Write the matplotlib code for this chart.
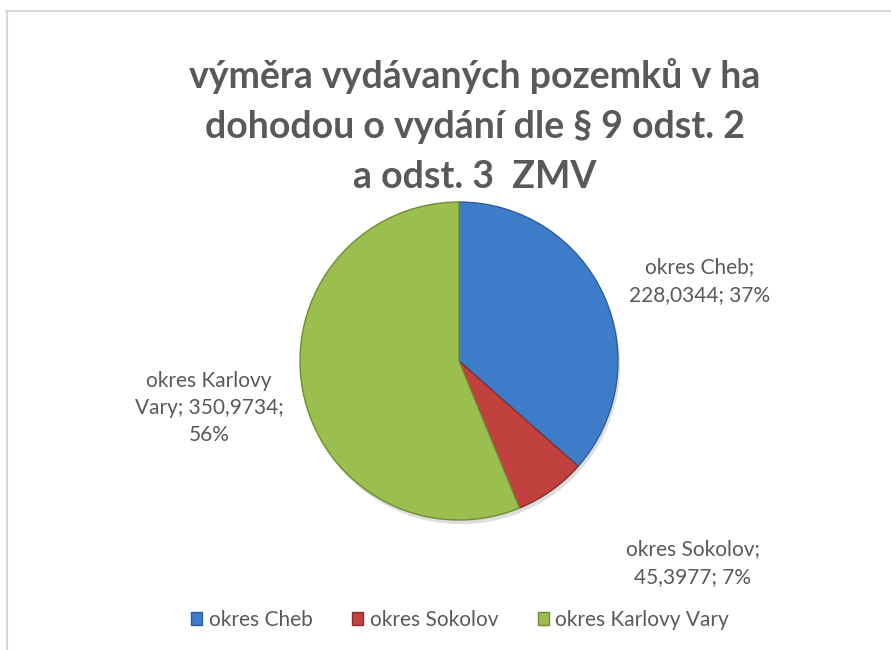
import matplotlib
matplotlib.use("Agg")
import matplotlib.pyplot as plt
import matplotlib.patheffects as pe
from matplotlib.patches import Patch
from matplotlib.lines import Line2D

# data
okresy = ["okres Cheb", "okres Sokolov", "okres Karlovy Vary"]
vymera = [228.0344, 45.3977, 350.9734]
procenta_txt = ["37%", "7%", "56%"]
barvy = ["#3d7cc9", "#c0413e", "#9bbf4f"]
okraje = ["#2e5f9c", "#8c2d2b", "#6f8c35"]

title = "výměra vydávaných pozemků v ha\ndohodou o vydání dle § 9 odst. 2\na odst. 3  ZMV"
grey = "#595959"

plt.rcParams['font.family'] = ['Lato', 'DejaVu Sans']

W, H = 891, 650
fig = plt.figure(figsize=(W / 100, H / 100), dpi=100)

# chart frame (only top and left edges visible in the crop)
fig.add_artist(Line2D([6 / W, 1.0], [1 - 10.5 / H, 1 - 10.5 / H], color="#d9d9d9", lw=1.5))
fig.add_artist(Line2D([6.5 / W, 6.5 / W], [0, 1 - 10.5 / H], color="#d9d9d9", lw=1.5))

# pie (radius ~159 px, axes padded a bit so the shadow is not clipped)
cx, cy, r = 459, 361, 159
pad = 1.04
ra = r * pad
ax = fig.add_axes([(cx - ra) / W, (H - cy - ra) / H, 2 * ra / W, 2 * ra / H])
wedges, _ = ax.pie(vymera, colors=barvy, startangle=90, counterclock=False, radius=1.0,
                   wedgeprops=dict(linewidth=1.0))
for w, ec in zip(wedges, okraje):
    w.set_edgecolor(ec)
    # soft shadow like the Excel style
    w.set_path_effects([pe.SimplePatchShadow(offset=(1.5, -3), shadow_rgbFace="#7f7f7f", alpha=0.25),
                        pe.Normal()])
ax.set_xlim(-pad, pad)
ax.set_ylim(-pad, pad)
ax.set_aspect("equal")
ax.axis("off")

# title
fig.text(475 / W, 1 - 126 / H, title, ha="center", va="center", fontsize=27,
         fontweight="bold", color=grey, linespacing=1.58)

# data labels
def val(v):
    return f"{v:.4f}".replace(".", ",")

labels = [
    f"{okresy[0]};\n{val(vymera[0])}; {procenta_txt[0]}",
    f"{okresy[1]};\n{val(vymera[1])}; {procenta_txt[1]}",
    "okres Karlovy\nVary; " + f"{val(vymera[2])};\n{procenta_txt[2]}",
]
label_pos = [(700, 281), (693, 563), (209, 408)]
for txt, (lx, ly) in zip(labels, label_pos):
    fig.text(lx / W, 1 - ly / H, txt, ha="center", va="center", fontsize=15,
             color=grey, linespacing=1.45)

# legend
handles = [Patch(facecolor=c, edgecolor=e, label=n) for c, e, n in zip(barvy, okraje, okresy)]
fig.legend(handles=handles, loc="center", bbox_to_anchor=(460 / W, 1 - 620 / H), ncol=3,
           frameon=False, fontsize=15, handlelength=0.55, handleheight=0.55,
           handletextpad=0.3, columnspacing=1.9, labelcolor=grey)

fig.savefig("out.png", dpi=100, facecolor="white")
